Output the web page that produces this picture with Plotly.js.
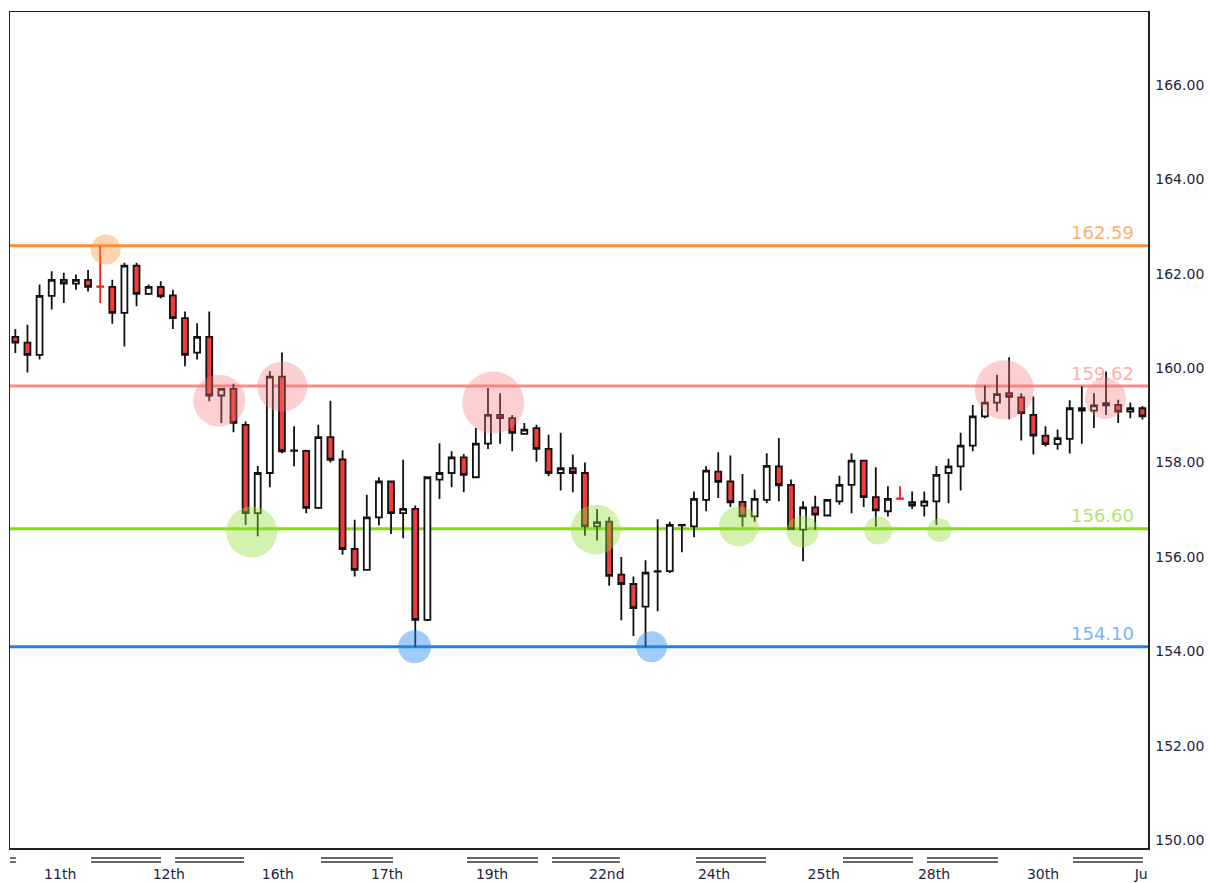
<!DOCTYPE html>
<html><head><meta charset="utf-8">
<script src="https://cdn.plot.ly/plotly-3.0.1.min.js"></script>
<style>html,body{margin:0;padding:0;background:#fff}#chart{width:1210px;height:883px}</style>
</head><body><div id="chart"></div>
<script>
const openP = [160.66,160.54,160.28,161.53,161.87,161.79,161.87,161.73,161.72,161.17,
162.17,161.57,161.72,161.54,161.06,160.33,160.66,159.42,159.56,158.80,
156.93,157.78,159.82,158.25,158.25,157.04,158.54,158.07,156.17,155.73,
156.84,157.60,156.93,157.02,154.67,157.64,157.78,158.11,157.69,158.40,
159.01,158.94,158.61,158.73,158.29,157.78,157.88,157.78,156.65,156.75,
155.63,155.43,154.95,155.69,155.70,156.67,156.65,157.21,157.81,157.60,
157.17,156.86,157.21,157.92,157.53,156.58,157.05,156.88,157.18,157.53,
158.04,157.27,156.97,157.24,157.16,157.09,157.18,157.78,157.92,158.36,
158.98,159.27,159.47,159.38,159.01,158.57,158.39,158.50,159.15,159.10,
159.26,159.22,159.08,159.15];
const highP = [160.83,160.92,161.77,162.05,162.02,161.98,162.08,162.59,161.87,162.23,
162.23,161.77,161.84,161.66,161.20,160.95,161.20,159.56,159.67,158.87,
157.93,159.94,160.33,158.77,158.27,158.80,159.31,158.26,156.79,157.32,
157.69,157.62,158.06,157.09,157.70,158.41,158.24,158.18,158.73,159.58,
159.47,159.01,158.84,158.80,158.59,158.63,158.17,158.00,157.02,156.85,
156.00,155.59,155.93,156.80,156.75,156.69,157.39,157.92,158.22,158.15,
157.76,157.43,158.20,158.52,157.64,157.18,157.30,157.23,157.72,158.20,
158.06,157.90,157.50,157.50,157.39,157.39,157.93,158.08,158.63,159.22,
159.63,159.86,160.23,159.47,159.40,158.77,158.70,159.32,159.61,159.47,
159.93,159.33,159.27,159.20];
const lowP = [160.32,159.91,160.18,161.24,161.38,161.66,161.62,161.38,160.94,160.46,
161.31,161.55,161.48,160.83,160.04,160.18,159.30,158.84,158.64,156.68,
156.44,157.48,158.20,157.92,156.93,157.02,158.00,156.05,155.59,155.72,
156.67,156.49,156.40,154.10,154.64,157.23,157.48,157.37,157.67,158.29,
158.40,158.24,158.61,158.02,157.71,157.41,157.37,156.45,156.35,155.39,
154.66,154.33,154.10,154.85,155.66,156.10,156.42,156.97,157.25,157.06,
156.64,156.75,157.14,157.18,156.58,155.91,156.58,156.86,157.11,156.93,
157.06,156.64,156.86,157.23,157.02,156.86,156.68,157.14,157.41,158.24,
158.94,159.08,158.92,158.47,158.17,158.34,158.27,158.19,158.40,158.73,
159.01,158.84,158.94,158.91];
const closeP = [160.54,160.28,161.53,161.87,161.79,161.87,161.72,161.72,161.17,162.17,
161.57,161.72,161.52,161.06,160.28,160.66,159.42,159.56,158.84,156.93,
157.78,159.82,158.24,158.26,157.04,158.54,158.06,156.17,155.73,156.84,
157.60,156.93,157.02,154.67,157.69,157.78,158.11,157.74,158.40,159.01,
158.94,158.63,158.70,158.29,157.78,157.88,157.78,156.65,156.74,155.60,
155.43,154.92,155.67,155.70,156.68,156.68,157.23,157.83,157.59,157.16,
156.86,157.23,157.93,157.52,156.59,157.05,156.90,157.21,157.53,158.04,
157.27,156.99,157.23,157.23,157.09,157.18,157.74,157.92,158.36,158.98,
159.27,159.45,159.39,159.05,158.57,158.39,158.52,159.15,159.10,159.21,
159.21,159.08,159.15,158.98];

const tickPos = [3.7, 12.66, 21.66, 30.67, 39.33, 48.8, 57.65, 66.7, 75.8, 84.8, 92.9];
const tickLabels = ['11th','12th','16th','17th','19th','22nd','24th','25th','28th','30th','Ju'];

const levelValues = [162.59, 159.62, 156.60, 154.10];
const levelLabels = ['162.59', '159.62', '156.60', '154.10'];
const levelLineColors = ['#fd8f2f', '#f98b8b', '#86dc10', '#1f80ec'];
const levelTextColors = ['#ffb06a', '#ffaeae', '#b2e676', '#78b4f5'];

const touchIdx   = [7.46, 16.83, 22.03, 39.43, 81.6, 89.95, 19.5, 47.9, 59.7, 64.95, 71.2, 76.25, 32.95, 52.5];
const touchPrice = [162.51, 159.31, 159.61, 159.27, 159.54, 159.36, 156.53, 156.58, 156.65, 156.54, 156.56, 156.57, 154.10, 154.10];
const touchLevel = [0, 1, 1, 1, 1, 1, 2, 2, 2, 2, 2, 2, 3, 3];
const touchSize  = [30, 52, 50, 62, 59, 41, 51, 50, 40, 32, 28, 24, 33, 31];
const touchColors = ['rgba(252,150,60,0.58)', 'rgba(245,120,120,0.5)', 'rgba(150,222,60,0.58)', 'rgba(40,135,240,0.62)'];

const sessionSpans = [[-0.44,0.06],[6.25,12.02],[13.18,18.87],[25.22,31.16],[37.27,43.13],[44.28,49.89],
  [56.16,61.94],[68.29,74.07],[75.22,81.08],[87.27,93.04]];

const idx = openP.map((_, i) => i);
const isRedDoji = i => openP[i] > closeP[i] && (openP[i] - closeP[i]) < 0.02;
const mainI = idx.filter(i => !isRedDoji(i));
const dojiI = idx.filter(i => isRedDoji(i));
const pick = (arr, ii) => ii.map(i => arr[i]);

const candleMain = {
  type: 'candlestick', x: mainI, open: pick(openP, mainI), high: pick(highP, mainI),
  low: pick(lowP, mainI), close: pick(closeP, mainI),
  increasing: {line: {color: '#111', width: 1.8}, fillcolor: '#ffffff'},
  decreasing: {line: {color: '#111', width: 1.8}, fillcolor: '#f03c3c'},
  whiskerwidth: 0, hoverinfo: 'skip', showlegend: false
};
const candleDoji = {
  type: 'candlestick', x: dojiI, open: pick(openP, dojiI), high: pick(highP, dojiI),
  low: pick(lowP, dojiI), close: pick(closeP, dojiI),
  increasing: {line: {color: '#ee2222', width: 1.8}, fillcolor: '#ee2222'},
  decreasing: {line: {color: '#ee2222', width: 1.8}, fillcolor: '#ee2222'},
  whiskerwidth: 0, hoverinfo: 'skip', showlegend: false
};
const circles = {
  type: 'scatter', mode: 'markers', x: touchIdx, y: touchPrice,
  marker: {size: touchSize, color: touchLevel.map(l => touchColors[l]), line: {width: 0}},
  hoverinfo: 'skip', showlegend: false
};

const shapes = levelValues.map((v, k) => ({
  type: 'line', xref: 'paper', x0: 0, x1: 1, yref: 'y', y0: v, y1: v,
  line: {color: levelLineColors[k], width: 3}, layer: 'below'
}));
sessionSpans.forEach(s => {
  [-0.0120, -0.0168].forEach(py => shapes.push({
    type: 'line', xref: 'x', yref: 'paper', x0: s[0], x1: s[1], y0: py, y1: py,
    line: {color: '#333', width: 1.4}
  }));
});

const annotations = levelValues.map((v, k) => ({
  xref: 'paper', x: 0.9895, xanchor: 'right', yref: 'y', y: v, yanchor: 'middle', yshift: 13,
  text: levelLabels[k], showarrow: false,
  font: {family: 'DejaVu Sans, sans-serif', size: 18, color: levelTextColors[k]}
}));

const yTicks = [150,152,154,156,158,160,162,164,166];
const layout = {
  width: 1210, height: 883,
  margin: {l: 10, r: 62, t: 12, b: 35},
  paper_bgcolor: '#fff', plot_bgcolor: '#fff',
  showlegend: false,
  xaxis: {
    range: [-0.44, 93.46], rangeslider: {visible: false}, showgrid: false, zeroline: false,
    showline: true, mirror: true, linecolor: '#222', linewidth: 1.5,
    tickvals: tickPos, ticktext: tickLabels, ticks: 'outside', ticklen: 13, tickcolor: 'rgba(0,0,0,0)',
    tickfont: {family: 'DejaVu Sans, sans-serif', size: 14, color: '#1c2340'}
  },
  yaxis: {
    range: [149.84, 167.54], side: 'right', showgrid: false, zeroline: false,
    showline: true, mirror: true, linecolor: '#222', linewidth: 1.5,
    tickvals: yTicks, ticktext: yTicks.map(v => v.toFixed(2)),
    ticks: 'outside', ticklen: 3, tickcolor: 'rgba(0,0,0,0)',
    tickfont: {family: 'DejaVu Sans, sans-serif', size: 14, color: '#1c2340'}
  },
  shapes: shapes,
  annotations: annotations
};
Plotly.newPlot('chart', [candleMain, candleDoji, circles], layout, {displayModeBar: false, staticPlot: true});
</script>
</body></html>
